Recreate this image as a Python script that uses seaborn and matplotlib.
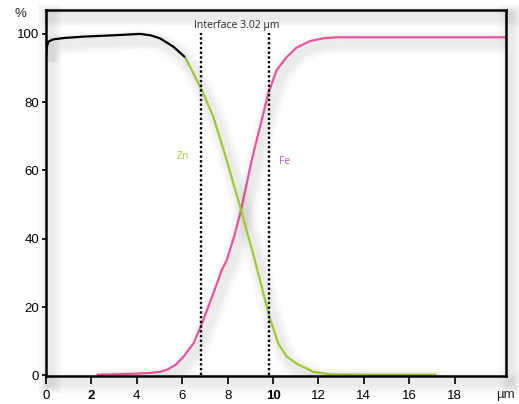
import numpy as np
import pandas as pd
import matplotlib
matplotlib.use("Agg")
import matplotlib.pyplot as plt
import matplotlib.patheffects as pe
import seaborn as sns

# ==========================
# data read from the profile
# ==========================

matrix_x = [0, 0.05, 0.1, 0.32, 0.8, 1.64, 3.0, 4.14, 4.6, 5.02, 5.6, 6.12]
matrix_y = [93.3, 96.5, 97.7, 98.4, 98.8, 99.2, 99.6, 100.0, 99.6, 98.7, 96.3, 93.2]

zn_x = [6.12, 6.5, 6.86, 7.37, 7.96, 8.59, 9.2, 9.84, 10.23, 10.6, 11.04, 11.78, 12.5, 14.0, 17.2]
zn_y = [93.2, 88.3, 83.6, 75.7, 63.0, 48.4, 33.7, 17.1, 9.3, 5.5, 3.4, 1.0, 0.3, 0.2, 0.2]

fe_x = [2.23, 3.0, 4.0, 4.6, 5.0, 5.32, 5.7, 6.05, 6.49, 6.81, 7.37, 7.74, 7.96, 8.3, 8.59,
        9.06, 9.5, 9.79, 10.16, 10.6, 11.04, 11.63, 12.2, 12.8, 14.0, 20.26]
fe_y = [0.2, 0.3, 0.5, 0.7, 1.0, 1.6, 3.0, 5.4, 9.3, 14.2, 24.0, 30.8, 33.7, 41.0, 48.4,
        63.0, 74.8, 82.6, 89.4, 93.2, 96.0, 97.9, 98.7, 99.0, 99.0, 99.0]

interface_x = [6.84, 9.84]
interface_label = "Interface 3.02 µm"

x_ticks = [0, 2, 4, 6, 8, 10, 12, 14, 16, 18]
y_ticks = [0, 20, 40, 60, 80, 100]
bold_ticks = [2, 10]

# ==========================
# style
# ==========================

sns.set_style("white")
plt.rcParams["font.family"] = ["Liberation Sans", "DejaVu Sans"]

green = "#a2c935"
pink = "#e8559e"
fe_text = "#bd62b8"

# soft drop shadow, built from a few wide faint strokes
shadow = [
    pe.SimpleLineShadow(offset=(3, -4), shadow_color="black", alpha=0.018, linewidth=w)
    for w in (16, 12, 9, 6)
] + [pe.Normal()]

fig = plt.figure(figsize=(5.19, 4.04), dpi=100)
ax = fig.add_axes([46 / 519, 1 - 376 / 404, 460 / 519, 366 / 404])

df_m = pd.DataFrame({"x": matrix_x, "y": matrix_y})
df_zn = pd.DataFrame({"x": zn_x, "y": zn_y})
df_fe = pd.DataFrame({"x": fe_x, "y": fe_y})

for df, col in [(df_fe, pink), (df_zn, green), (df_m, "black")]:
    sns.lineplot(data=df, x="x", y="y", sort=False, estimator=None,
                 color=col, linewidth=1.6, ax=ax)

for line in ax.get_lines():
    line.set_path_effects(shadow)
    line.set_solid_capstyle("butt")
    line.set_solid_joinstyle("round")

ax.vlines(interface_x, 0, 100.3, colors="black", linewidth=1.7,
          linestyles=[(0, (1.0, 1.0))], zorder=3)

ax.text(8.39, 102.6, interface_label, ha="center", va="center",
        fontsize=7.5, family=["Open Sans", "DejaVu Sans"])
ax.text(6.03, 64, "Zn", color=green, ha="center", va="center",
        fontsize=7.5, family=["Open Sans", "DejaVu Sans"])
ax.text(10.5, 62.5, "Fe", color=fe_text, ha="center", va="center",
        fontsize=7.5, family=["Open Sans", "DejaVu Sans"])

ax.set_xlim(0, 20.26)
ax.set_ylim(-0.2, 107)
ax.set_xticks(x_ticks)
ax.set_xticklabels([str(t) for t in x_ticks])
for lab, t in zip(ax.get_xticklabels(), x_ticks):
    if t in bold_ticks:
        lab.set_fontweight("bold")
ax.set_yticks(y_ticks)
ax.set_xlabel("")
ax.set_ylabel("")

ax.tick_params(axis="x", direction="out", length=6, width=1.2, pad=4,
               labelsize=9.5, bottom=True, colors="black")
ax.tick_params(axis="y", direction="out", length=3, width=1.2, pad=2,
               labelsize=9.5, left=True, colors="black")

for side in ["left", "right", "top", "bottom"]:
    ax.spines[side].set_visible(True)
    ax.spines[side].set_color("black")
    ax.spines[side].set_linewidth(1.8)
    ax.spines[side].set_path_effects(shadow)

fig.text(20 / 519, 1 - 14 / 404, "%", ha="center", va="center", fontsize=9.5)
fig.text(505 / 519, 1 - 395 / 404, "µm", ha="center", va="center", fontsize=9.5)

fig.savefig("out.png", dpi=100)
